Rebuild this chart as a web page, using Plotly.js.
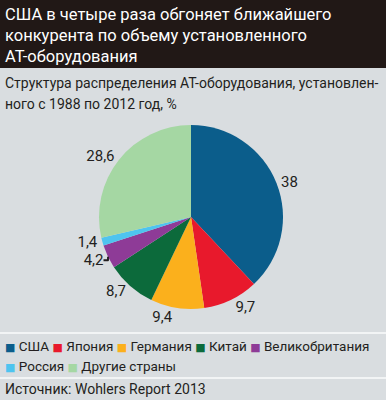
<!DOCTYPE html>
<html>
<head>
<meta charset="utf-8">
<script src="https://cdn.plot.ly/plotly-3.0.1.min.js"></script>
<style>html,body{margin:0;padding:0;background:#d9dde0;}#chart{width:386px;height:400px;}</style>
</head>
<body>
<div id="chart"></div>
<script>
var categories = ['США', 'Япония', 'Германия', 'Китай', 'Великобритания', 'Россия', 'Другие страны'];
var shares = [38, 9.7, 9.4, 8.7, 4.2, 1.4, 28.6];
var colors = ['#0b5d8b', '#e8192c', '#fbb01c', '#0c6a3b', '#8e3b97', '#4ec4ef', '#a5d7a3'];
var legendRows = [[0, 1, 2, 3, 4], [5, 6]];
var headlineLines = ['США в четыре раза обгоняет ближайшего', 'конкурента по объему установленного', 'АТ-оборудования'];
var subtitleLines = ['Структура распределения АТ-оборудования, установлен-', 'ного с 1988 по 2012 год, %'];
var source = 'Источник: Wohlers Report 2013';

var FONT = 'Roboto, "DejaVu Sans", sans-serif';
var W = 386, H = 400;
function py(px) { return 1 - px / H; }
function pxx(px) { return px / W; }

var labels = shares.map(function (v) { return String(v).replace('.', ','); });

var trace = {
  type: 'pie',
  labels: categories,
  values: shares,
  text: labels,
  textinfo: 'text',
  textposition: 'outside',
  sort: false,
  direction: 'clockwise',
  rotation: 0,
  marker: { colors: colors, line: { width: 0 } },
  outsidetextfont: { family: FONT, size: 15, color: '#231f20' },
  domain: { x: [pxx(191 - 92), pxx(191 + 92)], y: [py(217 + 92), py(217 - 92)] },
  automargin: false,
  hoverinfo: 'none'
};

function textLine(txt, xPx, yPx, size, color) {
  return { text: txt, xref: 'paper', yref: 'paper', x: pxx(xPx), y: py(yPx), xanchor: 'left', yanchor: 'middle',
    align: 'left', showarrow: false, font: { family: FONT, size: size, color: color } };
}

var anns = [];
headlineLines.forEach(function (t, i) { anns.push(textLine(t, 3, 14 + i * 21, 16.5, '#ffffff')); });
subtitleLines.forEach(function (t, i) { anns.push(textLine(t, 3, 83 + i * 21, 14, '#231f20')); });
legendRows.forEach(function (row, r) {
  var txt = row.map(function (i) {
    return '<span style="color:' + colors[i] + ';font-size:11px">■</span> ' + categories[i];
  }).join(' ');
  anns.push(textLine(txt, 3, 346 + r * 20, 13.5, '#231f20'));
});
anns.push(textLine(source, 3, 389, 14, '#231f20'));

var layout = {
  width: W, height: H,
  margin: { l: 0, r: 0, t: 0, b: 0 },
  paper_bgcolor: '#d9dde0',
  plot_bgcolor: '#d9dde0',
  font: { family: FONT, color: '#231f20' },
  showlegend: false,
  shapes: [
    { type: 'rect', xref: 'paper', yref: 'paper', x0: 0, x1: 1, y0: py(68), y1: 1, fillcolor: '#211816', line: { width: 0 }, layer: 'below' },
    { type: 'line', xref: 'paper', yref: 'paper', x0: 0, x1: 1, y0: py(333), y1: py(333), line: { color: '#f2f4f5', width: 2 } },
    { type: 'line', xref: 'paper', yref: 'paper', x0: 0, x1: 1, y0: py(378), y1: py(378), line: { color: '#f2f4f5', width: 2 } }
  ],
  annotations: anns
};

Plotly.newPlot('chart', [trace], layout, { displayModeBar: false, staticPlot: true });
</script>
</body>
</html>
